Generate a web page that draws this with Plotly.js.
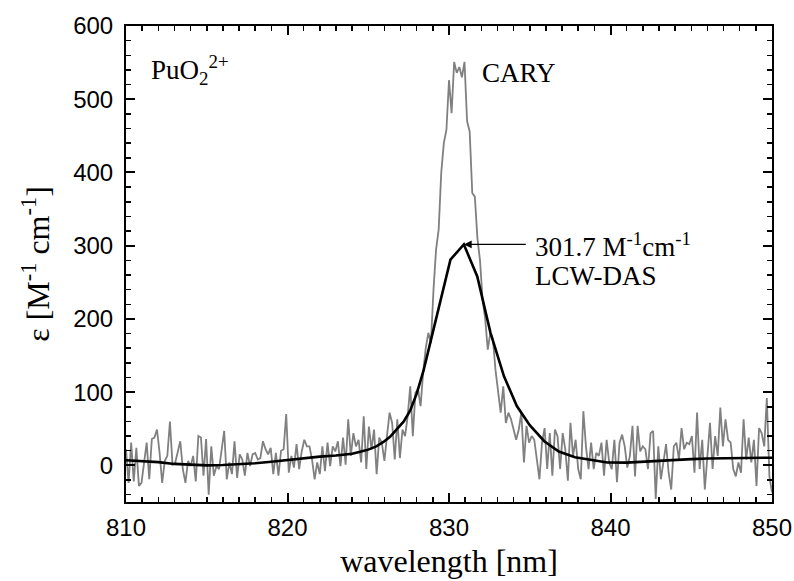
<!DOCTYPE html>
<html>
<head>
<meta charset="utf-8">
<script src="https://cdn.plot.ly/plotly-3.0.1.min.js"></script>
<style>html,body{margin:0;padding:0;background:#fff;}#chart{width:794px;height:581px;}</style>
</head>
<body>
<div id="chart"></div>
<script>
// CARY spectrum: start wavelength, step (nm), absorptivity values
const caryStart = 810;
const caryStep = 0.16;
const caryEps = [
  22,-24,31,-22,24,-28,-24,3,31,-19,
  36,38,49,17,-24,6,13,60,1,3,
  17,33,-5,-24,6,-1,13,-22,40,38,
  -14,36,-40,26,-14,-1,-5,22,47,-19,
  4,-12,33,-17,15,8,-14,17,-1,15,
  17,8,10,33,22,15,24,-12,17,-14,
  20,22,
  70,
  -10,13,-3,29,-5,19,35,26,26,8,
  -19,4,-12,26,-8,31,-1,26,19,33,
  -1,38,1,63,13,44,26,35,4,67,
  -5,53,22,49,-12,38,31,6,
  40,72,58,8,63,10,49,40,67,108,
  40,99,104,81,127,160,181,167,240,295,
  322,400,440,458,526,481,551,536,544,530,
  551,470,456,372,367,310,280,226,200,158,
  181,172,130,100,72,108,58,
  72,63,49,35,49,72,4,54,31,40,
  35,8,-19,31,51,-5,44,-14,49,40,
  -5,44,22,-21,58,13,35,-5,-19,74,
  26,-5,31,-5,17,13,31,-14,35,4,
  -5,35,-23,31,
  42,26,-3,13,54,-15,54,19,26,22,
  -5,44,47,-46,26,-19,4,29,-10,-33,
  26,31,8,51,22,31,29,40,-10,72,
  -5,35,-33,17,58,-5,40,13,79,26,
  63,35,31,-5,-15,4,-10,63,8,38,
  4,35,-28,51,44,26,92,-15,-37
];

// LCW-DAS spectrum
const lcwWl = [810,811,812,813,814,815,816,817,818,819,820,821,822,823,824,824.5,825,825.5,825.94,826.35,826.77,827.2,827.6,828.0,828.43,829.26,830.09,830.92,831.75,832.57,833.4,834.2,835.0,835.9,836.8,837.8,838.8,839.8,841,842,843,844,845,846,847,848,849,850];
const lcwEps = [7,6,4.5,2,0.5,0,0.5,1.5,3,5,7.5,10,12,13.5,16,18.5,21.5,26,32,39,49,60,75,98,130,205,281,301.7,258,181,122,81,55,33,19,11,7,4,3.8,5,7,8,8.5,9.5,10,10.5,10.5,10.5];

const peakWl = 830.92;
const peakEps = 301.7;

const xTicks = [810,820,830,840,850];
const yTicks = [0,100,200,300,400,500,600];

const serif = 'Liberation Serif, Times New Roman, serif';
const sans = 'Liberation Sans, Arial, sans-serif';

const traces = [
  {x0: caryStart, dx: caryStep, y: caryEps, type: 'scatter', mode: 'lines',
   line: {color: '#808080', width: 1.8}, name: 'CARY', hoverinfo: 'skip'},
  {x: lcwWl, y: lcwEps, type: 'scatter', mode: 'lines',
   line: {color: '#000000', width: 2.6}, name: 'LCW-DAS', hoverinfo: 'skip'}
];

const axisCommon = {
  showgrid: false, zeroline: false, showline: true, linecolor: '#000', linewidth: 2,
  mirror: 'ticks', ticks: 'inside', ticklen: 9, tickwidth: 2, tickcolor: '#000',
  tickfont: {family: sans, size: 24, color: '#000'}
};

const layout = {
  width: 794, height: 581,
  margin: {l: 125.5, r: 22.3, t: 25.5, b: 78.5},
  paper_bgcolor: '#fff', plot_bgcolor: '#fff',
  showlegend: false,
  xaxis: Object.assign({}, axisCommon, {
    range: [810, 850], tickvals: xTicks, ticktext: xTicks.map(String),
    ticklabelstandoff: 3,
    minor: {dtick: 1, ticks: 'inside', ticklen: 5, tickwidth: 1.5, tickcolor: '#000'},
    title: {text: 'wavelength [nm]', font: {family: serif, size: 32, color: '#000'}, standoff: 10}
  }),
  yaxis: Object.assign({}, axisCommon, {
    range: [-50, 600], tickvals: yTicks, ticktext: yTicks.map(String),
    ticklabelstandoff: 6,
    minor: {dtick: 20, ticks: 'inside', ticklen: 5, tickwidth: 1.5, tickcolor: '#000'},
    title: {text: 'ε [M<sup>-1</sup> cm<sup>-1</sup>]', font: {family: serif, size: 32, color: '#000'}, standoff: 14}
  }),
  annotations: [
    {x: 811.4, y: 540, xref: 'x', yref: 'y', xanchor: 'left', yanchor: 'middle', showarrow: false,
     text: 'PuO<sub>2</sub><sup>2+</sup>', font: {family: serif, size: 27, color: '#000'}},
    {x: 831.9, y: 536, xref: 'x', yref: 'y', xanchor: 'left', yanchor: 'middle', showarrow: false,
     text: 'CARY', font: {family: serif, size: 27, color: '#000'}},
    {x: 835.2, y: 301.5, xref: 'x', yref: 'y', xanchor: 'left', yanchor: 'middle', showarrow: false,
     text: '301.7 M<sup>-1</sup>cm<sup>-1</sup>', font: {family: serif, size: 27, color: '#000'}},
    {x: 835.2, y: 258, xref: 'x', yref: 'y', xanchor: 'left', yanchor: 'middle', showarrow: false,
     text: 'LCW-DAS', font: {family: serif, size: 27, color: '#000'}},
    {x: peakWl, y: peakEps, xref: 'x', yref: 'y', axref: 'x', ayref: 'y', ax: 834.85, ay: peakEps,
     text: '', showarrow: true, arrowhead: 2, arrowsize: 1.3, arrowwidth: 1.2, arrowcolor: '#000', standoff: 0}
  ]
};

Plotly.newPlot('chart', traces, layout, {staticPlot: true, displayModeBar: false});
</script>
</body>
</html>
